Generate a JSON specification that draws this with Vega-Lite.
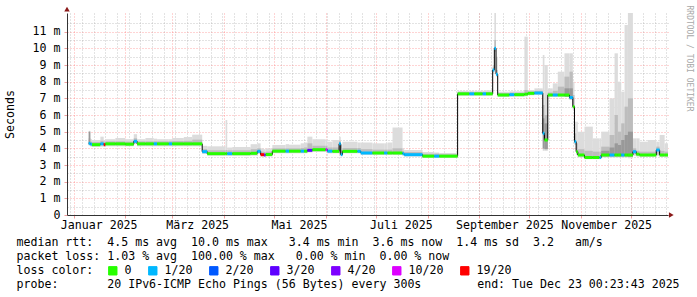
{
  "$schema": "https://vega.github.io/schema/vega-lite/v6.json",
  "width": 601,
  "height": 202,
  "autosize": {"type": "none"},
  "padding": {"left": 67, "top": 13, "right": 29, "bottom": 82},
  "background": "white",
  "config": {
    "view": {"stroke": null},
    "font": "DejaVu Sans Mono",
    "axis": {"labelFont": "DejaVu Sans Mono", "titleFont": "DejaVu Sans Mono", "labelColor": "#000", "titleColor": "#000", "titleFontWeight": "normal"},
    "legend": {"labelFont": "DejaVu Sans Mono", "titleFont": "DejaVu Sans Mono"}
  },
  "data": {"values": [
    {"t":"2025-01-10","t2":"2025-01-11","med":4.30,"loss":"1/20","olo":4.15,"ohi":5.05,"ilo":4.20,"ihi":4.60,"dlo":4.30,"dhi":5.00},
    {"t":"2025-01-11","t2":"2025-01-12","med":4.25,"loss":"1/20","olo":4.10,"ohi":4.55,"ilo":4.17,"ihi":4.40},
    {"t":"2025-01-12","t2":"2025-01-17","med":4.22,"loss":"0","olo":4.08,"ohi":4.50,"ilo":4.15,"ihi":4.38},
    {"t":"2025-01-17","t2":"2025-01-19","med":4.27,"loss":"1/20","olo":4.10,"ohi":4.70,"ilo":4.18,"ihi":4.45},
    {"t":"2025-01-19","t2":"2025-01-20","med":4.22,"loss":"19/20","olo":4.08,"ohi":4.50,"ilo":4.15,"ihi":4.40},
    {"t":"2025-01-20","t2":"2025-01-26","med":4.27,"loss":"0","olo":4.12,"ohi":4.55,"ilo":4.19,"ihi":4.42},
    {"t":"2025-01-26","t2":"2025-02-01","med":4.27,"loss":"0","olo":4.12,"ohi":4.62,"ilo":4.19,"ihi":4.42},
    {"t":"2025-02-01","t2":"2025-02-06","med":4.25,"loss":"0","olo":4.12,"ohi":4.55,"ilo":4.18,"ihi":4.40},
    {"t":"2025-02-06","t2":"2025-02-08","med":4.42,"loss":"1/20","olo":4.25,"ohi":4.85,"ilo":4.32,"ihi":4.60},
    {"t":"2025-02-08","t2":"2025-02-13","med":4.27,"loss":"0","olo":4.12,"ohi":4.55,"ilo":4.19,"ihi":4.42},
    {"t":"2025-02-13","t2":"2025-02-18","med":4.27,"loss":"0","olo":4.12,"ohi":4.62,"ilo":4.19,"ihi":4.42},
    {"t":"2025-02-18","t2":"2025-02-20","med":4.27,"loss":"1/20","olo":4.12,"ohi":4.58,"ilo":4.19,"ihi":4.42},
    {"t":"2025-02-20","t2":"2025-02-27","med":4.27,"loss":"0","olo":4.12,"ohi":4.55,"ilo":4.19,"ihi":4.42},
    {"t":"2025-02-27","t2":"2025-03-01","med":4.27,"loss":"1/20","olo":4.12,"ohi":4.55,"ilo":4.19,"ihi":4.42},
    {"t":"2025-03-01","t2":"2025-03-08","med":4.27,"loss":"0","olo":4.12,"ohi":4.62,"ilo":4.19,"ihi":4.44},
    {"t":"2025-03-08","t2":"2025-03-13","med":4.27,"loss":"0","olo":4.12,"ohi":4.68,"ilo":4.19,"ihi":4.45},
    {"t":"2025-03-13","t2":"2025-03-19","med":4.27,"loss":"0","olo":4.12,"ohi":4.82,"ilo":4.19,"ihi":4.52},
    {"t":"2025-03-19","t2":"2025-03-22","med":3.80,"loss":"1/20","olo":3.66,"ohi":4.15,"ilo":3.72,"ihi":3.95},
    {"t":"2025-03-22","t2":"2025-04-02","med":3.68,"loss":"0","olo":3.55,"ohi":4.12,"ilo":3.61,"ihi":3.88},
    {"t":"2025-04-02","t2":"2025-04-03","med":3.68,"loss":"0","olo":3.55,"ohi":5.70,"ilo":3.61,"ihi":3.90},
    {"t":"2025-04-03","t2":"2025-04-06","med":3.68,"loss":"1/20","olo":3.55,"ohi":4.05,"ilo":3.61,"ihi":3.88},
    {"t":"2025-04-06","t2":"2025-04-17","med":3.68,"loss":"0","olo":3.55,"ohi":4.08,"ilo":3.61,"ihi":3.88},
    {"t":"2025-04-17","t2":"2025-04-21","med":3.70,"loss":"0","olo":3.56,"ohi":4.25,"ilo":3.63,"ihi":3.95},
    {"t":"2025-04-21","t2":"2025-04-23","med":3.82,"loss":"1/20","olo":3.66,"ohi":4.30,"ilo":3.74,"ihi":4.00},
    {"t":"2025-04-23","t2":"2025-04-25","med":3.62,"loss":"19/20","olo":3.50,"ohi":4.00,"ilo":3.56,"ihi":3.80},
    {"t":"2025-04-25","t2":"2025-04-26","med":3.60,"loss":"4/20","olo":3.50,"ohi":3.95,"ilo":3.55,"ihi":3.78},
    {"t":"2025-04-26","t2":"2025-04-30","med":3.63,"loss":"0","olo":3.50,"ohi":4.00,"ilo":3.56,"ihi":3.80},
    {"t":"2025-04-30","t2":"2025-05-08","med":3.83,"loss":"0","olo":3.70,"ohi":4.20,"ilo":3.76,"ihi":4.00},
    {"t":"2025-05-08","t2":"2025-05-10","med":3.83,"loss":"1/20","olo":3.70,"ohi":4.25,"ilo":3.76,"ihi":4.00},
    {"t":"2025-05-10","t2":"2025-05-17","med":3.83,"loss":"0","olo":3.70,"ohi":4.22,"ilo":3.76,"ihi":4.00},
    {"t":"2025-05-17","t2":"2025-05-19","med":3.83,"loss":"1/20","olo":3.70,"ohi":4.30,"ilo":3.76,"ihi":4.02},
    {"t":"2025-05-19","t2":"2025-05-21","med":3.83,"loss":"0","olo":3.70,"ohi":4.35,"ilo":3.76,"ihi":4.05},
    {"t":"2025-05-21","t2":"2025-05-24","med":3.88,"loss":"3/20","olo":3.75,"ohi":4.70,"ilo":3.80,"ihi":4.30},
    {"t":"2025-05-24","t2":"2025-06-01","med":3.92,"loss":"0","olo":3.78,"ohi":4.55,"ilo":3.84,"ihi":4.15},
    {"t":"2025-06-01","t2":"2025-06-02","med":3.92,"loss":"10/20","olo":3.78,"ohi":4.50,"ilo":3.84,"ihi":4.15},
    {"t":"2025-06-02","t2":"2025-06-05","med":3.83,"loss":"1/20","olo":3.70,"ohi":4.40,"ilo":3.76,"ihi":4.05},
    {"t":"2025-06-05","t2":"2025-06-09","med":3.82,"loss":"0","olo":3.70,"ohi":4.50,"ilo":3.75,"ihi":4.05},
    {"t":"2025-06-09","t2":"2025-06-10","med":4.27,"loss":"1/20","olo":3.62,"ohi":4.70,"ilo":3.70,"ihi":4.45,"dlo":3.70,"dhi":4.30},
    {"t":"2025-06-10","t2":"2025-06-11","med":3.62,"loss":"1/20","olo":3.55,"ohi":4.20,"ilo":3.58,"ihi":3.90},
    {"t":"2025-06-11","t2":"2025-06-20","med":3.82,"loss":"0","olo":3.70,"ohi":4.40,"ilo":3.75,"ihi":4.02},
    {"t":"2025-06-20","t2":"2025-06-22","med":3.82,"loss":"1/20","olo":3.70,"ohi":4.35,"ilo":3.75,"ihi":4.02},
    {"t":"2025-06-22","t2":"2025-06-29","med":3.72,"loss":"1/20","olo":3.60,"ohi":4.35,"ilo":3.66,"ihi":3.95},
    {"t":"2025-06-29","t2":"2025-07-06","med":3.72,"loss":"0","olo":3.60,"ohi":4.30,"ilo":3.66,"ihi":3.92},
    {"t":"2025-07-06","t2":"2025-07-08","med":3.72,"loss":"1/20","olo":3.60,"ohi":4.30,"ilo":3.66,"ihi":3.92},
    {"t":"2025-07-08","t2":"2025-07-11","med":3.72,"loss":"0","olo":3.60,"ohi":4.35,"ilo":3.66,"ihi":3.92},
    {"t":"2025-07-11","t2":"2025-07-17","med":3.72,"loss":"0","olo":3.60,"ohi":5.25,"ilo":3.66,"ihi":4.00},
    {"t":"2025-07-17","t2":"2025-07-18","med":3.68,"loss":"1/20","olo":3.55,"ohi":4.00,"ilo":3.62,"ihi":3.85},
    {"t":"2025-07-18","t2":"2025-07-29","med":3.62,"loss":"1/20","olo":3.50,"ohi":3.90,"ilo":3.56,"ihi":3.78},
    {"t":"2025-07-29","t2":"2025-08-05","med":3.53,"loss":"0","olo":3.42,"ohi":3.78,"ilo":3.47,"ihi":3.68},
    {"t":"2025-08-05","t2":"2025-08-08","med":3.53,"loss":"1/20","olo":3.42,"ohi":3.75,"ilo":3.47,"ihi":3.68},
    {"t":"2025-08-08","t2":"2025-08-19","med":3.53,"loss":"0","olo":3.42,"ohi":3.72,"ilo":3.47,"ihi":3.65},
    {"t":"2025-08-19","t2":"2025-08-26","med":7.27,"loss":"0","olo":7.15,"ohi":7.45,"ilo":7.20,"ihi":7.38},
    {"t":"2025-08-26","t2":"2025-08-29","med":7.27,"loss":"1/20","olo":7.15,"ohi":7.45,"ilo":7.20,"ihi":7.38},
    {"t":"2025-08-29","t2":"2025-09-03","med":7.27,"loss":"0","olo":7.15,"ohi":7.45,"ilo":7.20,"ihi":7.38},
    {"t":"2025-09-03","t2":"2025-09-05","med":7.27,"loss":"1/20","olo":7.15,"ohi":7.45,"ilo":7.20,"ihi":7.38},
    {"t":"2025-09-05","t2":"2025-09-09","med":7.27,"loss":"0","olo":7.15,"ohi":7.48,"ilo":7.20,"ihi":7.38},
    {"t":"2025-09-09","t2":"2025-09-10","med":8.70,"loss":"1/20","olo":8.50,"ohi":9.00,"ilo":8.60,"ihi":8.85},
    {"t":"2025-09-10","t2":"2025-09-11","med":10.00,"loss":"1/20","olo":9.80,"ohi":12.12,"ilo":9.90,"ihi":10.50},
    {"t":"2025-09-11","t2":"2025-09-12","med":8.45,"loss":"1/20","olo":8.30,"ohi":9.50,"ilo":8.38,"ihi":8.70},
    {"t":"2025-09-12","t2":"2025-09-19","med":7.20,"loss":"0","olo":7.08,"ohi":7.40,"ilo":7.14,"ihi":7.32},
    {"t":"2025-09-19","t2":"2025-09-22","med":7.22,"loss":"1/20","olo":7.10,"ohi":7.42,"ilo":7.15,"ihi":7.34},
    {"t":"2025-09-22","t2":"2025-09-28","med":7.22,"loss":"0","olo":7.10,"ohi":7.42,"ilo":7.15,"ihi":7.34},
    {"t":"2025-09-28","t2":"2025-09-30","med":7.25,"loss":"0","olo":7.12,"ohi":10.70,"ilo":7.18,"ihi":7.50},
    {"t":"2025-09-30","t2":"2025-10-04","med":7.30,"loss":"0","olo":7.18,"ohi":7.50,"ilo":7.24,"ihi":7.42},
    {"t":"2025-10-04","t2":"2025-10-09","med":7.32,"loss":"1/20","olo":7.20,"ohi":7.60,"ilo":7.26,"ihi":7.45},
    {"t":"2025-10-09","t2":"2025-10-10","med":4.90,"loss":"1/20","olo":3.85,"ohi":9.60,"ilo":3.95,"ihi":6.60,"dlo":4.00,"dhi":5.80},
    {"t":"2025-10-10","t2":"2025-10-12","med":4.50,"loss":"0","olo":3.85,"ohi":9.00,"ilo":3.95,"ihi":6.00,"dlo":3.95,"dhi":5.50},
    {"t":"2025-10-12","t2":"2025-10-15","med":7.20,"loss":"0","olo":7.08,"ohi":7.60,"ilo":7.14,"ihi":7.35},
    {"t":"2025-10-15","t2":"2025-10-18","med":7.20,"loss":"1/20","olo":7.08,"ohi":7.90,"ilo":7.14,"ihi":7.45},
    {"t":"2025-10-18","t2":"2025-10-22","med":7.20,"loss":"0","olo":7.08,"ohi":8.60,"ilo":7.14,"ihi":7.70},
    {"t":"2025-10-22","t2":"2025-10-25","med":7.20,"loss":"0","olo":7.08,"ohi":9.70,"ilo":7.14,"ihi":8.30,"dlo":7.10,"dhi":7.60},
    {"t":"2025-10-25","t2":"2025-10-27","med":7.05,"loss":"1/20","olo":6.90,"ohi":9.70,"ilo":6.98,"ihi":8.60,"dlo":6.95,"dhi":7.60},
    {"t":"2025-10-27","t2":"2025-10-28","med":6.50,"loss":"0","olo":6.30,"ohi":8.00,"ilo":6.40,"ihi":7.20},
    {"t":"2025-10-28","t2":"2025-10-29","med":4.40,"loss":"1/20","olo":4.20,"ohi":5.60,"ilo":4.30,"ihi":4.90},
    {"t":"2025-10-29","t2":"2025-10-30","med":3.80,"loss":"0","olo":3.60,"ohi":5.60,"ilo":3.70,"ihi":4.30},
    {"t":"2025-10-30","t2":"2025-11-03","med":3.60,"loss":"0","olo":3.45,"ohi":5.00,"ilo":3.52,"ihi":3.95},
    {"t":"2025-11-03","t2":"2025-11-08","med":3.45,"loss":"0","olo":3.35,"ohi":5.30,"ilo":3.40,"ihi":3.85},
    {"t":"2025-11-08","t2":"2025-11-12","med":3.45,"loss":"0","olo":3.35,"ohi":4.60,"ilo":3.40,"ihi":3.80},
    {"t":"2025-11-12","t2":"2025-11-13","med":3.45,"loss":"1/20","olo":3.35,"ohi":4.60,"ilo":3.40,"ihi":3.80},
    {"t":"2025-11-13","t2":"2025-11-18","med":3.60,"loss":"0","olo":3.45,"ohi":5.00,"ilo":3.52,"ihi":4.10,"dlo":3.52,"dhi":3.85},
    {"t":"2025-11-18","t2":"2025-11-21","med":3.60,"loss":"1/20","olo":3.45,"ohi":7.00,"ilo":3.52,"ihi":4.80,"dlo":3.52,"dhi":4.05},
    {"t":"2025-11-21","t2":"2025-11-23","med":3.60,"loss":"0","olo":3.45,"ohi":9.70,"ilo":3.52,"ihi":6.00,"dlo":3.52,"dhi":4.30},
    {"t":"2025-11-23","t2":"2025-11-25","med":3.60,"loss":"0","olo":3.45,"ohi":8.00,"ilo":3.52,"ihi":5.00,"dlo":3.52,"dhi":4.20},
    {"t":"2025-11-25","t2":"2025-11-27","med":3.60,"loss":"1/20","olo":3.45,"ohi":7.40,"ilo":3.52,"ihi":5.50,"dlo":3.52,"dhi":4.50},
    {"t":"2025-11-27","t2":"2025-11-29","med":3.60,"loss":"0","olo":3.45,"ohi":11.40,"ilo":3.52,"ihi":6.50,"dlo":3.52,"dhi":4.80},
    {"t":"2025-11-29","t2":"2025-12-02","med":3.60,"loss":"0","olo":3.40,"ohi":12.12,"ilo":3.50,"ihi":7.00,"dlo":3.50,"dhi":5.00},
    {"t":"2025-12-02","t2":"2025-12-04","med":3.80,"loss":"1/20","olo":3.55,"ohi":4.60,"ilo":3.65,"ihi":4.00},
    {"t":"2025-12-04","t2":"2025-12-06","med":3.65,"loss":"0","olo":3.50,"ohi":4.60,"ilo":3.57,"ihi":3.85},
    {"t":"2025-12-06","t2":"2025-12-11","med":3.60,"loss":"0","olo":3.48,"ohi":4.40,"ilo":3.54,"ihi":3.80},
    {"t":"2025-12-11","t2":"2025-12-16","med":3.60,"loss":"0","olo":3.48,"ohi":4.50,"ilo":3.54,"ihi":3.80},
    {"t":"2025-12-16","t2":"2025-12-18","med":3.90,"loss":"1/20","olo":3.55,"ohi":4.40,"ilo":3.62,"ihi":4.10},
    {"t":"2025-12-18","t2":"2025-12-21","med":3.60,"loss":"0","olo":3.48,"ohi":4.80,"ilo":3.54,"ihi":3.85},
    {"t":"2025-12-21","t2":"2025-12-23","med":3.60,"loss":"0","olo":3.48,"ohi":4.30,"ilo":3.54,"ihi":3.80}
  ]},
  "resolve": {"axis": {"x": "independent", "y": "independent"}},
  "layer": [
    {
      "mark": {"type": "rect", "color": "#dcdcdc"},
      "encoding": {
        "x": {"field": "t", "type": "temporal",
          "scale": {"type": "utc", "domain": [{"year":2024,"month":12,"date":28,"hours":0,"minutes":23,"seconds":43,"utc":true},{"year":2025,"month":12,"date":23,"hours":0,"minutes":23,"seconds":43,"utc":true}]},
          "axis": {"orient": "bottom", "title": null, "labels": false, "ticks": true, "tickSize": 3, "tickColor": "#f0a0a0", "domain": true, "domainColor": "#333333", "grid": true, "gridColor": "#ff4040", "gridOpacity": 0.45, "gridDash": [1, 2],
            "values": [{"year":2025,"month":1,"date":1,"utc":true},{"year":2025,"month":2,"date":1,"utc":true},{"year":2025,"month":3,"date":1,"utc":true},{"year":2025,"month":4,"date":1,"utc":true},{"year":2025,"month":5,"date":1,"utc":true},{"year":2025,"month":6,"date":1,"utc":true},{"year":2025,"month":7,"date":1,"utc":true},{"year":2025,"month":8,"date":1,"utc":true},{"year":2025,"month":9,"date":1,"utc":true},{"year":2025,"month":10,"date":1,"utc":true},{"year":2025,"month":11,"date":1,"utc":true},{"year":2025,"month":12,"date":1,"utc":true}]}},
        "x2": {"field": "t2"},
        "y": {"field": "olo", "type": "quantitative", "scale": {"domain": [0, 12.12], "nice": false},
          "axis": {"orient": "left", "values": [0,1,2,3,4,5,6,7,8,9,10,11], "grid": true, "gridColor": "#ff4040", "gridOpacity": 0.45, "gridDash": [1, 2],
            "ticks": true, "tickSize": 3, "tickColor": "#f0a0a0", "domain": true, "domainColor": "#333333",
            "labelExpr": "datum.value == 0 ? '0' : datum.value + '\u00a0m'", "labelFontSize": 11.6, "labelPadding": 4,
            "encode": {"labels": {"update": {"dx": {"signal": "datum.value == 0 ? -14 : 0"}}}},
            "title": "Seconds", "titleFontSize": 11.6, "titleX": -52, "titleY": 101}},
        "y2": {"field": "ohi"}
      }
    },
    {
      "mark": {"type": "rect", "color": "#bdbdbd"},
      "encoding": {
        "x": {"field": "t", "type": "temporal",
          "scale": {"type": "utc", "domain": [{"year":2024,"month":12,"date":28,"hours":0,"minutes":23,"seconds":43,"utc":true},{"year":2025,"month":12,"date":23,"hours":0,"minutes":23,"seconds":43,"utc":true}]},
          "axis": {"orient": "bottom", "title": null, "labels": false, "ticks": false, "domain": false, "grid": true, "gridColor": "#a0a0a0", "gridOpacity": 0.6, "gridDash": [1, 2],
            "values": [{"year":2024,"month":12,"date":30,"utc":true},{"year":2025,"month":1,"date":6,"utc":true},{"year":2025,"month":1,"date":13,"utc":true},{"year":2025,"month":1,"date":20,"utc":true},{"year":2025,"month":1,"date":27,"utc":true},{"year":2025,"month":2,"date":3,"utc":true},{"year":2025,"month":2,"date":10,"utc":true},{"year":2025,"month":2,"date":17,"utc":true},{"year":2025,"month":2,"date":24,"utc":true},{"year":2025,"month":3,"date":3,"utc":true},{"year":2025,"month":3,"date":10,"utc":true},{"year":2025,"month":3,"date":17,"utc":true},{"year":2025,"month":3,"date":24,"utc":true},{"year":2025,"month":3,"date":31,"utc":true},{"year":2025,"month":4,"date":7,"utc":true},{"year":2025,"month":4,"date":14,"utc":true},{"year":2025,"month":4,"date":21,"utc":true},{"year":2025,"month":4,"date":28,"utc":true},{"year":2025,"month":5,"date":5,"utc":true},{"year":2025,"month":5,"date":12,"utc":true},{"year":2025,"month":5,"date":19,"utc":true},{"year":2025,"month":5,"date":26,"utc":true},{"year":2025,"month":6,"date":2,"utc":true},{"year":2025,"month":6,"date":9,"utc":true},{"year":2025,"month":6,"date":16,"utc":true},{"year":2025,"month":6,"date":23,"utc":true},{"year":2025,"month":6,"date":30,"utc":true},{"year":2025,"month":7,"date":7,"utc":true},{"year":2025,"month":7,"date":14,"utc":true},{"year":2025,"month":7,"date":21,"utc":true},{"year":2025,"month":7,"date":28,"utc":true},{"year":2025,"month":8,"date":4,"utc":true},{"year":2025,"month":8,"date":11,"utc":true},{"year":2025,"month":8,"date":18,"utc":true},{"year":2025,"month":8,"date":25,"utc":true},{"year":2025,"month":9,"date":1,"utc":true},{"year":2025,"month":9,"date":8,"utc":true},{"year":2025,"month":9,"date":15,"utc":true},{"year":2025,"month":9,"date":22,"utc":true},{"year":2025,"month":9,"date":29,"utc":true},{"year":2025,"month":10,"date":6,"utc":true},{"year":2025,"month":10,"date":13,"utc":true},{"year":2025,"month":10,"date":20,"utc":true},{"year":2025,"month":10,"date":27,"utc":true},{"year":2025,"month":11,"date":3,"utc":true},{"year":2025,"month":11,"date":10,"utc":true},{"year":2025,"month":11,"date":17,"utc":true},{"year":2025,"month":11,"date":24,"utc":true},{"year":2025,"month":12,"date":1,"utc":true},{"year":2025,"month":12,"date":8,"utc":true},{"year":2025,"month":12,"date":15,"utc":true},{"year":2025,"month":12,"date":22,"utc":true}]}},
        "x2": {"field": "t2"},
        "y": {"field": "ilo", "type": "quantitative", "scale": {"domain": [0, 12.12], "nice": false},
          "axis": {"orient": "left", "values": [0.5,1.5,2.5,3.5,4.5,5.5,6.5,7.5,8.5,9.5,10.5,11.5], "grid": true, "gridColor": "#a0a0a0", "gridOpacity": 0.6, "gridDash": [1, 2], "labels": false, "ticks": false, "domain": false, "title": null}},
        "y2": {"field": "ihi"}
      }
    },
    {
      "mark": {"type": "rect", "color": "#999999"},
      "encoding": {
        "x": {"field": "t", "type": "temporal", "axis": null,
          "scale": {"type": "utc", "domain": [{"year":2024,"month":12,"date":28,"hours":0,"minutes":23,"seconds":43,"utc":true},{"year":2025,"month":12,"date":23,"hours":0,"minutes":23,"seconds":43,"utc":true}]}},
        "x2": {"field": "t2"},
        "y": {"field": "dlo", "type": "quantitative", "axis": null, "scale": {"domain": [0, 12.12], "nice": false}},
        "y2": {"field": "dhi"}
      }
    },
    {
      "mark": {"type": "line", "interpolate": "step-after", "color": "#000000", "strokeWidth": 1},
      "encoding": {
        "x": {"field": "t", "type": "temporal",
          "scale": {"type": "utc", "domain": [{"year":2024,"month":12,"date":28,"hours":0,"minutes":23,"seconds":43,"utc":true},{"year":2025,"month":12,"date":23,"hours":0,"minutes":23,"seconds":43,"utc":true}]},
          "axis": {"orient": "bottom", "grid": false, "ticks": false, "domain": false,
            "values": [{"year":2025,"month":1,"date":16,"utc":true},{"year":2025,"month":3,"date":16,"utc":true},{"year":2025,"month":5,"date":16,"utc":true},{"year":2025,"month":7,"date":16,"utc":true},{"year":2025,"month":9,"date":16,"utc":true},{"year":2025,"month":11,"date":16,"utc":true}],
            "labelExpr": "['Januar','Februar','März','April','Mai','Juni','Juli','August','September','Oktober','November','Dezember'][utcmonth(datum.value)] + ' ' + utcyear(datum.value)",
            "labelFontSize": 11.6, "labelPadding": 4, "labelFlush": false, "labelOverlap": false,
            "title": ["median rtt:\u00a0\u00a04.5 ms avg\u00a0\u00a010.0 ms max\u00a0\u00a0\u00a03.4 ms min\u00a0\u00a03.6 ms now\u00a0\u00a01.4 ms sd\u00a0\u00a03.2\u00a0\u00a0\u00a0am/s", "packet loss: 1.03 % avg\u00a0\u00a0100.00 % max\u00a0\u00a0\u00a00.00 % min\u00a0\u00a00.00 % now", "loss color:", "probe:\u00a0\u00a0\u00a0\u00a0\u00a0\u00a0\u00a020 IPv6-ICMP Echo Pings (56 Bytes) every 300s\u00a0\u00a0\u00a0\u00a0\u00a0\u00a0\u00a0\u00a0end: Tue Dec 23 00:23:43 2025"],
            "titleFontSize": 11.6, "titleAnchor": "start", "titleAlign": "left", "titleBaseline": "top", "titleX": -51, "titleY": 21.5, "titleLineHeight": 14.1}},
        "y": {"field": "med", "type": "quantitative", "scale": {"domain": [0, 12.12], "nice": false},
          "axis": {"orient": "right", "grid": false, "labels": false, "ticks": false, "domain": false,
            "title": "RRDTOOL / TOBI OETIKER", "titleFontSize": 8, "titleColor": "#a8a8a8", "titleAngle": 90, "titleAlign": "left", "titleBaseline": "middle", "titleX": 20, "titleY": -8}}
      }
    },
    {
      "mark": {"type": "rule", "strokeWidth": 3, "strokeCap": "butt"},
      "encoding": {
        "x": {"field": "t", "type": "temporal", "axis": null,
          "scale": {"type": "utc", "domain": [{"year":2024,"month":12,"date":28,"hours":0,"minutes":23,"seconds":43,"utc":true},{"year":2025,"month":12,"date":23,"hours":0,"minutes":23,"seconds":43,"utc":true}]}},
        "x2": {"field": "t2"},
        "y": {"field": "med", "type": "quantitative", "axis": null, "scale": {"domain": [0, 12.12], "nice": false}},
        "color": {"field": "loss", "type": "nominal",
          "scale": {"domain": ["0","1/20","2/20","3/20","4/20","10/20","19/20"], "range": ["#26ff00","#00b8ff","#0059ff","#5e00ff","#7e00ff","#dd00ff","#ff0000"]},
          "legend": {"orient": "none", "legendX": 40, "legendY": 252, "direction": "horizontal", "padding": 0,
            "title": null,
            "labelFontSize": 11.6, "labelColor": "#000", "labelOffset": 6, "columnPadding": 14, "labelLimit": 200,
            "symbolType": "square", "symbolSize": 70, "symbolStrokeWidth": 1, "symbolStrokeColor": "#000",
            "encode": {"symbols": {"update": {"fill": {"scale": "color", "field": "value"}, "stroke": {"value": "#000"}, "strokeWidth": {"value": 1}, "opacity": {"value": 1}}}}}}
      }
    },
    {
      "data": {"values": [{}]},
      "mark": {"type": "point", "shape": "triangle-up", "filled": true, "color": "#8b1a1a", "size": 30, "opacity": 1},
      "encoding": {
        "x": {"datum": {"year":2024,"month":12,"date":28,"hours":0,"minutes":23,"seconds":43,"utc":true}, "type": "temporal", "axis": null,
          "scale": {"type": "utc", "domain": [{"year":2024,"month":12,"date":28,"hours":0,"minutes":23,"seconds":43,"utc":true},{"year":2025,"month":12,"date":23,"hours":0,"minutes":23,"seconds":43,"utc":true}]}},
        "y": {"datum": 12.35, "type": "quantitative", "axis": null, "scale": {"domain": [0, 12.12], "nice": false}}
      }
    },
    {
      "data": {"values": [{}]},
      "mark": {"type": "point", "shape": "triangle-right", "filled": true, "color": "#8b1a1a", "size": 30, "opacity": 1},
      "encoding": {
        "x": {"datum": {"year":2025,"month":12,"date":25,"utc":true}, "type": "temporal", "axis": null,
          "scale": {"type": "utc", "domain": [{"year":2024,"month":12,"date":28,"hours":0,"minutes":23,"seconds":43,"utc":true},{"year":2025,"month":12,"date":23,"hours":0,"minutes":23,"seconds":43,"utc":true}]}},
        "y": {"datum": 0, "type": "quantitative", "axis": null, "scale": {"domain": [0, 12.12], "nice": false}}
      }
    }
  ]
}
